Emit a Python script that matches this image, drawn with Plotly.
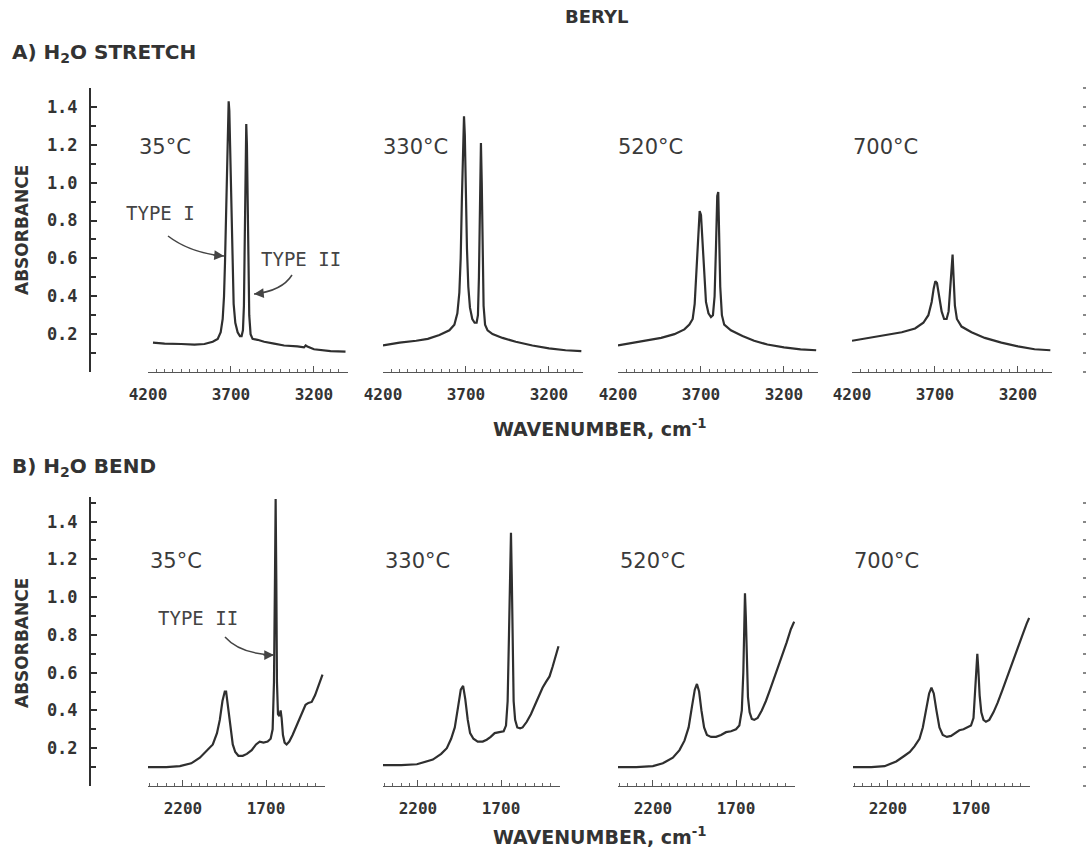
import plotly.graph_objects as go

W, H = 1087, 854

# ---------------- data ----------------
temps = ["35°C", "330°C", "520°C", "700°C"]

stretch_x_35 = [4170, 4100, 4000, 3920, 3860, 3810, 3780, 3762, 3750, 3742, 3736, 3730, 3724, 3718, 3714, 3710, 3705, 3699, 3692, 3684, 3674, 3660, 3646, 3636, 3628, 3622, 3617, 3612, 3608, 3604, 3600, 3596, 3590, 3582, 3570, 3540, 3500, 3440, 3380, 3300, 3260, 3250, 3240, 3200, 3100, 3010]
stretch_y_35 = [0.155, 0.150, 0.148, 0.145, 0.148, 0.160, 0.175, 0.21, 0.28, 0.40, 0.58, 0.85, 1.15, 1.38, 1.43, 1.38, 1.15, 0.85, 0.55, 0.36, 0.26, 0.21, 0.19, 0.19, 0.22, 0.35, 0.70, 1.10, 1.31, 1.20, 0.85, 0.50, 0.30, 0.20, 0.175, 0.170, 0.160, 0.150, 0.140, 0.135, 0.130, 0.140, 0.135, 0.120, 0.110, 0.108]

stretch_x_330 = [4200, 4100, 4000, 3930, 3860, 3800, 3770, 3752, 3740, 3732, 3725, 3718, 3712, 3707, 3701, 3694, 3686, 3676, 3662, 3648, 3636, 3628, 3622, 3616, 3610, 3605, 3600, 3594, 3585, 3570, 3540, 3480, 3400, 3300, 3200, 3100, 3005]
stretch_y_330 = [0.14, 0.155, 0.165, 0.175, 0.195, 0.22, 0.25, 0.31, 0.42, 0.60, 0.90, 1.20, 1.35, 1.25, 0.95, 0.65, 0.45, 0.34, 0.28, 0.26, 0.26, 0.30, 0.50, 0.90, 1.21, 1.00, 0.60, 0.35, 0.25, 0.22, 0.20, 0.18, 0.16, 0.14, 0.125, 0.115, 0.11]

stretch_x_520 = [4200, 4100, 4000, 3940, 3860, 3800, 3770, 3750, 3738, 3728, 3718, 3708, 3700, 3692, 3682, 3670, 3655, 3640, 3628, 3618, 3610, 3602, 3596, 3590, 3584, 3574, 3560, 3520, 3450, 3380, 3300, 3200, 3100, 3006]
stretch_y_520 = [0.14, 0.155, 0.17, 0.18, 0.20, 0.225, 0.25, 0.28, 0.36, 0.52, 0.72, 0.85, 0.83, 0.70, 0.50, 0.37, 0.31, 0.29, 0.30, 0.40, 0.65, 0.93, 0.95, 0.75, 0.45, 0.30, 0.25, 0.22, 0.19, 0.165, 0.145, 0.13, 0.12, 0.115]

stretch_x_700 = [4200, 4100, 4000, 3900, 3820, 3770, 3740, 3720, 3708, 3698, 3688, 3676, 3660, 3645, 3630, 3618, 3608, 3600, 3594, 3588, 3580, 3568, 3540, 3480, 3400, 3300, 3200, 3100, 3005]
stretch_y_700 = [0.165, 0.18, 0.195, 0.21, 0.23, 0.26, 0.30, 0.37, 0.44, 0.48, 0.47, 0.40, 0.32, 0.28, 0.28, 0.32, 0.45, 0.60, 0.62, 0.50, 0.35, 0.28, 0.24, 0.21, 0.18, 0.155, 0.135, 0.12, 0.115]

bend_x_35 = [2410, 2300, 2218, 2150, 2098, 2050, 2020, 1995, 1978, 1962, 1948, 1940, 1928, 1914, 1900, 1885, 1866, 1840, 1815, 1786, 1760, 1738, 1715, 1690, 1672, 1660, 1652, 1646, 1642, 1638, 1634, 1628, 1620, 1612, 1606, 1598, 1588, 1576, 1560, 1540, 1510, 1480, 1462, 1445, 1425, 1405, 1390, 1375, 1360]
bend_y_35 = [0.10, 0.10, 0.105, 0.12, 0.15, 0.19, 0.22, 0.28, 0.35, 0.45, 0.50, 0.50, 0.42, 0.30, 0.22, 0.18, 0.16, 0.16, 0.17, 0.19, 0.22, 0.235, 0.23, 0.235, 0.25, 0.30, 0.55, 1.10, 1.52, 1.10, 0.55, 0.38, 0.37, 0.40, 0.36, 0.27, 0.23, 0.22, 0.235, 0.27, 0.33, 0.39, 0.43, 0.44, 0.445, 0.48, 0.52, 0.55, 0.59]

bend_x_330 = [2410, 2300, 2206, 2150, 2110, 2060, 2026, 2000, 1978, 1958, 1942, 1928, 1915, 1900, 1886, 1866, 1840, 1810, 1786, 1762, 1738, 1710, 1684, 1670, 1660, 1652, 1645, 1640, 1635, 1630, 1624, 1615, 1602, 1585, 1570, 1545, 1520, 1495, 1470, 1450, 1430, 1408, 1390, 1370, 1354]
bend_y_330 = [0.11, 0.11, 0.115, 0.13, 0.14, 0.17, 0.20, 0.25, 0.31, 0.42, 0.51, 0.53, 0.46, 0.35, 0.28, 0.25, 0.235, 0.235, 0.245, 0.26, 0.28, 0.285, 0.29, 0.32, 0.45, 0.80, 1.20, 1.34, 1.10, 0.70, 0.45, 0.35, 0.31, 0.305, 0.31, 0.34, 0.38, 0.43, 0.48, 0.52, 0.55, 0.58, 0.63, 0.69, 0.74]

bend_x_520 = [2410, 2300, 2200, 2140, 2080, 2040, 2010, 1985, 1965, 1948, 1935, 1922, 1908, 1892, 1875, 1850, 1820, 1790, 1760, 1730, 1700, 1680, 1665, 1656, 1650, 1646, 1641, 1635, 1628, 1618, 1605, 1590, 1570, 1545, 1520, 1495, 1470, 1445, 1420, 1395, 1370, 1350]
bend_y_520 = [0.10, 0.10, 0.105, 0.12, 0.15, 0.19, 0.24, 0.31, 0.42, 0.51, 0.54, 0.50, 0.40, 0.31, 0.27, 0.26, 0.26, 0.27, 0.285, 0.29, 0.30, 0.32, 0.40, 0.60, 0.85, 1.02, 0.90, 0.65, 0.47, 0.39, 0.355, 0.35, 0.36, 0.40, 0.45, 0.51, 0.57, 0.63, 0.69, 0.76, 0.83, 0.87]

bend_x_700 = [2410, 2300, 2220, 2150, 2100, 2068, 2040, 2010, 1990, 1970, 1952, 1938, 1924, 1908, 1890, 1870, 1845, 1820, 1795, 1770, 1745, 1720, 1700, 1685, 1675, 1668, 1662, 1656, 1648, 1638, 1625, 1610, 1590, 1565, 1540, 1510, 1480, 1450, 1420, 1390, 1365, 1350]
bend_y_700 = [0.10, 0.10, 0.105, 0.13, 0.16, 0.18, 0.21, 0.25, 0.31, 0.41, 0.49, 0.52, 0.49, 0.40, 0.31, 0.27, 0.26, 0.265, 0.28, 0.295, 0.30, 0.31, 0.32, 0.36, 0.50, 0.65, 0.70, 0.62, 0.48, 0.39, 0.35, 0.34, 0.35, 0.39, 0.44, 0.51, 0.58, 0.65, 0.72, 0.80, 0.86, 0.89]

stretch_ticks = [4200, 3700, 3200]
bend_ticks = [2200, 1700]
abs_ticks = [0.2, 0.4, 0.6, 0.8, 1.0, 1.2, 1.4]

stretch_series = [(stretch_x_35, stretch_y_35), (stretch_x_330, stretch_y_330),
                  (stretch_x_520, stretch_y_520), (stretch_x_700, stretch_y_700)]
bend_series = [(bend_x_35, bend_y_35), (bend_x_330, bend_y_330),
               (bend_x_520, bend_y_520), (bend_x_700, bend_y_700)]

# ---------------- layout helpers ----------------
def px(x):
    return x / W

def py(y):
    return 1 - y / H

INK = "#2f2f2f"
MONO = "DejaVu Sans Mono"
SANS = "DejaVu Sans"

top_cols = [(148, 348), (383, 583), (618, 818), (852, 1052)]
bot_cols = [(148, 325), (383, 560), (618, 795), (853, 1030)]
top_rows = (88, 372)
bot_rows = (497, 786)

fig = go.Figure()
layout = dict(
    width=W, height=H, margin=dict(l=0, r=0, t=0, b=0, pad=0, autoexpand=False),
    paper_bgcolor="white", plot_bgcolor="white", showlegend=False,
)

def xaxis_def(dom, rng, ticks, yname):
    return dict(
        domain=[px(dom[0]), px(dom[1])], range=rng, anchor=yname, automargin=False,
        showgrid=False, zeroline=False, showline=True, linecolor="#555", linewidth=1,
        ticks="inside", ticklen=6, tickwidth=1, tickcolor="#555",
        tickvals=ticks, ticktext=[str(t) for t in ticks],
        tickfont=dict(family=MONO, size=16, color="#333", weight="bold"),
        ticklabelstandoff=8,
        minor=dict(ticks="inside", ticklen=3, tickwidth=1, tickcolor="#666", dtick=50, tick0=0),
    )

def yaxis_def(dom, rng, visible, xname):
    d = dict(domain=[py(dom[1]), py(dom[0])], range=rng, showgrid=False, zeroline=False,
             automargin=False)
    if visible:
        d.update(
            anchor="free", position=px(90), showline=True, linecolor=INK, linewidth=2,
            ticks="inside", ticklen=6, tickwidth=2, tickcolor=INK,
            tickvals=abs_ticks, ticktext=[f"{v:.1f}" for v in abs_ticks],
            tickfont=dict(family=MONO, size=17, color="#333", weight="bold"),
            ticklabelstandoff=8,
            minor=dict(ticks="inside", ticklen=5, tickwidth=2, tickcolor=INK, dtick=0.1, tick0=0),
        )
    else:
        d.update(visible=False, anchor=xname)
    return d

for i in range(4):
    n = i + 1
    xs, ys = stretch_series[i]
    fig.add_trace(go.Scatter(x=xs, y=ys, mode="lines", line=dict(color=INK, width=2.2),
                             xaxis=f"x{n}", yaxis=f"y{n}", hoverinfo="skip"))
    layout[f"xaxis{n}"] = xaxis_def(top_cols[i], [4200, 2995], stretch_ticks, f"y{n}")
    layout[f"yaxis{n}"] = yaxis_def(top_rows, [0, 1.5], i == 0, f"x{n}")

for i in range(4):
    n = i + 5
    xs, ys = bend_series[i]
    fig.add_trace(go.Scatter(x=xs, y=ys, mode="lines", line=dict(color=INK, width=2.2),
                             xaxis=f"x{n}", yaxis=f"y{n}", hoverinfo="skip"))
    layout[f"xaxis{n}"] = xaxis_def(bot_cols[i], [2410, 1345], bend_ticks, f"y{n}")
    layout[f"yaxis{n}"] = yaxis_def(bot_rows, [0, 1.53], i == 0, f"x{n}")

# faint tick strips at the far right edge
for n, base in ((9, 1), (10, 5)):
    fig.add_trace(go.Scatter(x=[None], y=[None], xaxis=f"x{base}", yaxis=f"y{n}",
                             hoverinfo="skip"))
    layout[f"yaxis{n}"] = dict(
        overlaying=f"y{base}", anchor="free", position=px(1082), side="right",
        range=layout[f"yaxis{base}"]["range"], showgrid=False, zeroline=False,
        automargin=False, showline=False, showticklabels=False, ticks="outside",
        ticklen=3, tickwidth=2, tickcolor="#888", dtick=0.1, tick0=0,
    )

fig.update_layout(**layout)

# ---------------- text ----------------
ann = []

def txt(x, y, s, size, xanchor="left", family=MONO, weight="normal", color="#333", angle=0):
    ann.append(dict(x=px(x), y=py(y), xref="paper", yref="paper", text=s, showarrow=False,
                    xanchor=xanchor, yanchor="middle", textangle=angle,
                    font=dict(family=family, size=size, color=color, weight=weight)))

txt(597, 16, "BERYL", 18, "center", SANS, "bold")
txt(10, 53, "A) H<sub>2</sub>O STRETCH", 20, "left", SANS, "bold")
txt(10, 467, "B) H<sub>2</sub>O BEND", 20, "left", SANS, "bold")
txt(22, 230, "ABSORBANCE", 17, "center", SANS, "bold", angle=-90)
txt(22, 643, "ABSORBANCE", 17, "center", SANS, "bold", angle=-90)
txt(600, 428, "WAVENUMBER, cm<sup>-1</sup>", 19, "center", SANS, "bold")
txt(600, 836, "WAVENUMBER, cm<sup>-1</sup>", 19, "center", SANS, "bold")

top_lbl_x = [137, 381, 616, 851]
bot_lbl_x = [148, 383, 618, 852]
for i, t in enumerate(temps):
    txt(top_lbl_x[i], 147, t, 21, "left", SANS, "normal", "#3a3a3a")
    txt(bot_lbl_x[i], 561, t, 21, "left", SANS, "normal", "#3a3a3a")

txt(124, 213, "TYPE I", 19, "left", MONO, "normal", "#444")
txt(259, 259, "TYPE II", 19, "left", MONO, "normal", "#444")
txt(156, 618, "TYPE II", 19, "left", MONO, "normal", "#444")

# curved arrows
def curved_arrow(p0, c, p1, head_from):
    path = (f"M {px(p0[0])},{py(p0[1])} Q {px(c[0])},{py(c[1])} {px(p1[0])},{py(p1[1])}")
    fig.add_shape(type="path", path=path, xref="paper", yref="paper",
                  line=dict(color="#444", width=1.5))
    ann.append(dict(x=px(p1[0]), y=py(p1[1]), xref="paper", yref="paper", text="",
                    showarrow=True, arrowhead=2, arrowsize=1.3, arrowwidth=1.5,
                    arrowcolor="#444", ax=head_from[0], ay=head_from[1]))

curved_arrow((168, 236), (190, 253), (224, 256), (-12, -1))
curved_arrow((292, 275), (282, 291), (254, 294), (10, -1))
curved_arrow((225, 637), (240, 654), (274, 655), (-12, 0))

fig.update_layout(annotations=ann)
fig.write_html("out.html", config={"displayModeBar": False},
               post_script="document.body.style.margin='0px';document.body.style.overflow='hidden';")
